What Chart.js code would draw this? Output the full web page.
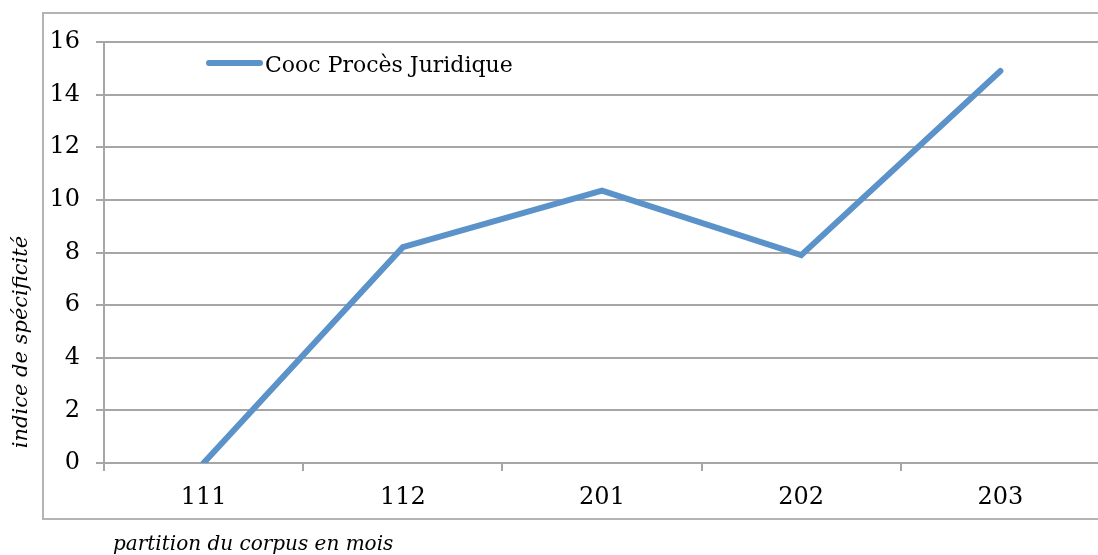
<!DOCTYPE html>
<html>
<head>
<meta charset="utf-8">
<style>
  html, body { margin: 0; padding: 0; background: #fff; overflow: hidden; }
  canvas { display: block; }
</style>
<script src="https://cdn.jsdelivr.net/npm/chart.js@4"></script>
</head>
<body>
<canvas id="myChart" width="1102" height="555"></canvas>
<script>
// Donnees
let partitions = ['111', '112', '201', '202', '203'];
let cooc = [0, 8.2, 10.35, 7.9, 14.9];
let serieNom = 'Cooc Procès Juridique';
let titreX = 'partition du corpus en mois';
let titreY = 'indice de spécificité';

const police = '"DejaVu Serif", serif';
const gris = '#a6a6a6';
const bleu = '#5b92c9';

// Cadre, legende et titres des axes
const decor = {
  id: 'decor',
  beforeDraw(chart) {
    const c = chart.ctx;
    c.save();
    c.strokeStyle = '#b4b4b4';
    c.lineWidth = 2;
    c.strokeRect(43, 13, 1058, 506);
    c.restore();
  },
  afterDraw(chart) {
    const c = chart.ctx;
    c.save();
    // legende
    c.strokeStyle = bleu;
    c.lineWidth = 6;
    c.lineCap = 'round';
    c.beginPath();
    c.moveTo(209, 63);
    c.lineTo(260, 63);
    c.stroke();
    c.fillStyle = '#000';
    c.font = '22px ' + police;
    c.textBaseline = 'middle';
    c.textAlign = 'left';
    c.fillText(chart.data.datasets[0].label, 265, 66);
    // titres
    c.font = 'italic 20px ' + police;
    c.fillText(titreX, 113, 545);
    c.font = 'italic 21px ' + police;
    c.translate(22, 342);
    c.rotate(-Math.PI / 2);
    c.textAlign = 'center';
    c.fillText(titreY, 0, 0);
    c.restore();
  }
};

const ctx = document.getElementById('myChart').getContext('2d');
const myChart = new Chart(ctx, {
  type: 'line',
  data: {
    labels: partitions,
    datasets: [{
      label: serieNom,
      data: cooc,
      borderColor: bleu,
      backgroundColor: bleu,
      borderWidth: 6,
      borderCapStyle: 'round',
      pointRadius: 0,
      pointHoverRadius: 0,
      tension: 0
    }]
  },
  options: {
    responsive: false,
    animation: false,
    layout: { padding: { left: 44, top: 42, right: 2, bottom: 36 } },
    plugins: {
      legend: { display: false },
      tooltip: { enabled: false }
    },
    scales: {
      x: {
        offset: true,
        grid: {
          offset: true,
          drawOnChartArea: false,
          drawTicks: true,
          tickLength: 8,
          color: gris,
          lineWidth: 2
        },
        border: { color: gris, width: 2 },
        ticks: {
          color: '#000',
          padding: 12,
          maxRotation: 0,
          font: { family: police, size: 24 }
        },
        afterFit(scale) { scale.height = 56; }
      },
      y: {
        min: 0,
        max: 16,
        grid: {
          color: gris,
          lineWidth: 2,
          tickLength: 8
        },
        border: { color: gris, width: 2 },
        ticks: {
          stepSize: 2,
          color: '#000',
          padding: 16,
          font: { family: police, size: 24 }
        },
        afterFit(scale) { scale.width = 60; }
      }
    }
  },
  plugins: [decor]
});
</script>
</body>
</html>
